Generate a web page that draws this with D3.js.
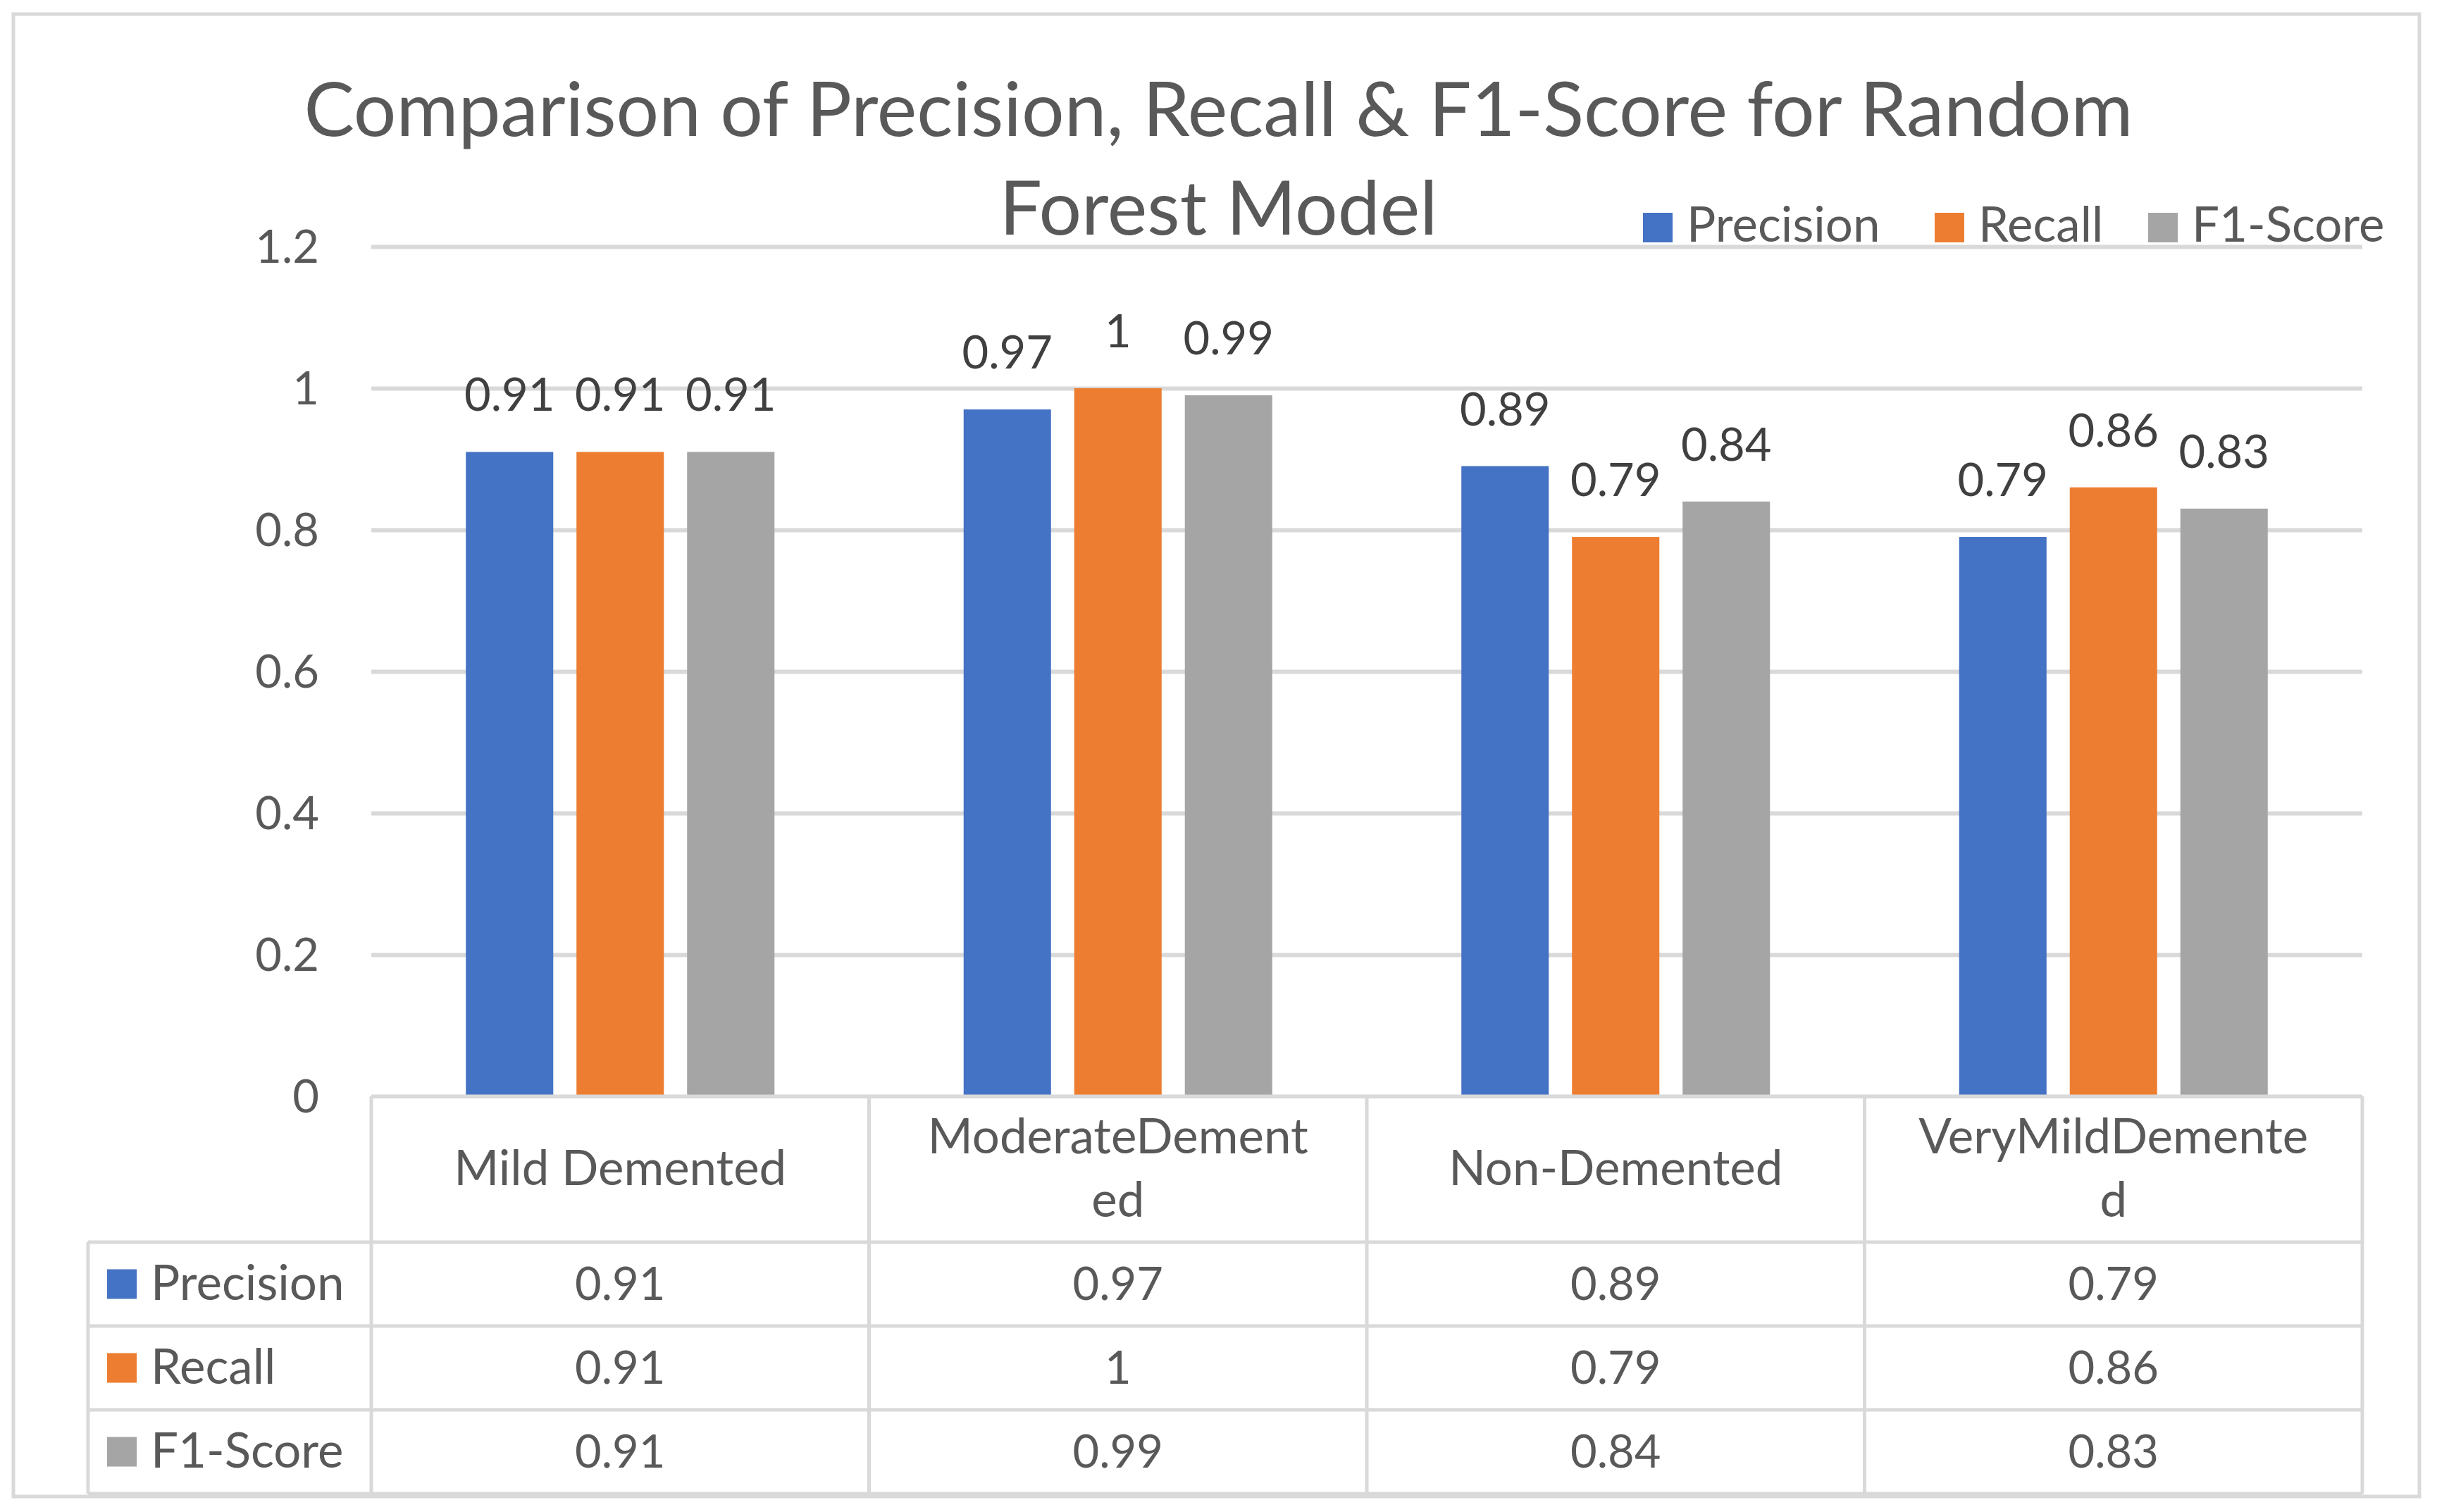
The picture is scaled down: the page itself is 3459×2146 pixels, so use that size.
<!DOCTYPE html>
<html>
<head>
<meta charset="utf-8">
<script src="https://cdn.jsdelivr.net/npm/d3@7/dist/d3.min.js"></script>
<style>
  html, body { margin: 0; padding: 0; background: #ffffff; }
  svg { display: block; }
</style>
</head>
<body>
<svg id="chart" width="3459" height="2146"></svg>
<script>
// ---------------- DATA ----------------
const categories = ["Mild Demented", "ModerateDemented", "Non-Demented", "VeryMildDemented"];
const seriesNames = ["Precision", "Recall", "F1-Score"];
const precisionValues = [0.91, 0.97, 0.89, 0.79];
const recallValues = [0.91, 1, 0.79, 0.86];
const f1ScoreValues = [0.91, 0.99, 0.84, 0.83];
const yTickValues = [0, 0.2, 0.4, 0.6, 0.8, 1, 1.2];
const yTickLabels = ["0", "0.2", "0.4", "0.6", "0.8", "1", "1.2"];
const titleLines = ["Comparison of Precision, Recall & F1-Score for Random", "Forest Model"];
const seriesColors = ["#4472C4", "#ED7D31", "#A5A5A5"];

// ---------------- LAYOUT ----------------
const W = 3459, H = 2146;
const FONT = "Lato, 'Open Sans', 'Noto Sans', sans-serif";
const NUM_SIZE = "65px";
const TXT_SIZE = "69px";
const textColor = "#595959";
const labelColor = "#404040";
const lineColor = "#D9D9D9";

const plotLeft = 527, plotRight = 3353, plotTop = 350, plotBottom = 1556;
const tableLeft = 125;
const rowH = 119;
const headerBottom = 1763;

const seriesData = [precisionValues, recallValues, f1ScoreValues];
const table = categories.map((c, i) => ({
  category: c,
  values: seriesNames.map((s, j) => ({ series: s, value: seriesData[j][i], idx: j }))
}));

const svg = d3.select("#chart");
svg.append("rect").attr("width", W).attr("height", H).attr("fill", "#ffffff");

// outer border
svg.append("rect")
  .attr("x", 19).attr("y", 20).attr("width", 3415).attr("height", 2104)
  .attr("fill", "none").attr("stroke", lineColor).attr("stroke-width", 5);

const y = d3.scaleLinear().domain([0, 1.2]).range([plotBottom, plotTop]);
const x0 = d3.scaleBand().domain(categories).range([plotLeft, plotRight]).padding(0);
const x1 = d3.scaleBand().domain(seriesNames).range([0, x0.bandwidth()])
  .paddingInner(0.21).paddingOuter(0.855);

// gridlines via axis
const yAxis = d3.axisLeft(y).tickValues(yTickValues).tickSize(-(plotRight - plotLeft)).tickFormat((d, i) => yTickLabels[i]);
const gAxis = svg.append("g").attr("transform", `translate(${plotLeft},0)`).call(yAxis);
gAxis.select(".domain").remove();
gAxis.selectAll(".tick line").attr("stroke", lineColor).attr("stroke-width", 6);
gAxis.selectAll(".tick text")
  .attr("x", -(plotLeft - 453))
  .attr("dy", "0.35em")
  .attr("fill", textColor)
  .style("font-family", FONT)
  .style("font-size", NUM_SIZE)
  .attr("text-anchor", "end");
gAxis.selectAll(".tick").filter(d => d === 0).select("line").attr("stroke-width", 5);

// bars
const groups = svg.append("g").selectAll("g.cat").data(table).join("g")
  .attr("class", "cat")
  .attr("transform", d => `translate(${x0(d.category)},0)`);

groups.selectAll("rect").data(d => d.values).join("rect")
  .attr("x", d => x1(d.series))
  .attr("y", d => y(d.value))
  .attr("width", x1.bandwidth())
  .attr("height", d => y(0) - y(d.value))
  .attr("fill", d => seriesColors[d.idx]);

groups.selectAll("text.lbl").data(d => d.values).join("text")
  .attr("class", "lbl")
  .attr("x", d => x1(d.series) + x1.bandwidth() / 2)
  .attr("y", d => y(d.value) - 58)
  .attr("text-anchor", "middle")
  .attr("fill", labelColor)
  .style("font-family", FONT)
  .style("font-size", NUM_SIZE)
  .text(d => String(d.value));

// title
svg.append("g").selectAll("text").data(titleLines).join("text")
  .attr("x", W / 2)
  .attr("y", (d, i) => 193 + i * 140)
  .attr("text-anchor", "middle")
  .attr("fill", textColor)
  .style("font-family", FONT)
  .style("font-size", "107px")
  .text(d => d);

// top legend
const legendX = [2332, 2746, 3049];
const lg = svg.append("g").selectAll("g").data(seriesNames).join("g")
  .attr("transform", (d, i) => `translate(${legendX[i]},0)`);
lg.append("rect").attr("x", 0).attr("y", 302).attr("width", 42).attr("height", 42)
  .attr("fill", (d, i) => seriesColors[i]);
lg.append("text").attr("x", 62).attr("y", 343)
  .attr("fill", textColor)
  .style("font-family", FONT).style("font-size", TXT_SIZE)
  .text(d => d);

// ---------------- DATA TABLE ----------------
const tg = svg.append("g");
const tableBottom = headerBottom + rowH * seriesNames.length;
const colEdges = categories.map(c => x0(c)).concat([plotRight]);

tg.append("line").attr("x1", plotLeft).attr("x2", plotRight).attr("y1", plotBottom).attr("y2", plotBottom)
  .attr("stroke", lineColor).attr("stroke-width", 5);
for (let r = 0; r <= seriesNames.length; r++) {
  tg.append("line").attr("x1", tableLeft).attr("x2", plotRight)
    .attr("y1", headerBottom + r * rowH).attr("y2", headerBottom + r * rowH)
    .attr("stroke", lineColor).attr("stroke-width", 5);
}
colEdges.forEach(xe => {
  tg.append("line").attr("x1", xe).attr("x2", xe).attr("y1", plotBottom).attr("y2", tableBottom)
    .attr("stroke", lineColor).attr("stroke-width", 5);
});
tg.append("line").attr("x1", tableLeft).attr("x2", tableLeft).attr("y1", headerBottom).attr("y2", tableBottom)
  .attr("stroke", lineColor).attr("stroke-width", 5);

// header labels with character wrap
const maxHeaderWidth = 562;
const headerCenterY = (plotBottom + headerBottom) / 2;
categories.forEach(c => {
  const t = tg.append("text")
    .attr("text-anchor", "middle")
    .attr("fill", textColor)
    .style("font-family", FONT).style("font-size", TXT_SIZE);
  const lines = [];
  let cur = "";
  const probe = tg.append("text").style("font-family", FONT).style("font-size", TXT_SIZE);
  for (const ch of c) {
    probe.text(cur + ch);
    if (probe.node().getComputedTextLength() > maxHeaderWidth && cur.length) {
      lines.push(cur); cur = ch;
    } else cur += ch;
  }
  lines.push(cur);
  probe.remove();
  const lh = 90;
  const startY = headerCenterY + 22 - (lines.length - 1) * lh / 2;
  lines.forEach((ln, i) => {
    t.append("tspan").attr("x", x0(c) + x0.bandwidth() / 2).attr("y", startY + i * lh).text(ln);
  });
});

// rows
seriesNames.forEach((s, j) => {
  const cy = headerBottom + j * rowH + rowH / 2;
  tg.append("rect").attr("x", 152).attr("y", cy - 21).attr("width", 42).attr("height", 42)
    .attr("fill", seriesColors[j]);
  tg.append("text").attr("x", 214).attr("y", cy + 22)
    .attr("fill", textColor)
    .style("font-family", FONT).style("font-size", TXT_SIZE)
    .text(s);
  categories.forEach((c, i) => {
    tg.append("text").attr("x", x0(c) + x0.bandwidth() / 2).attr("y", cy + 22)
      .attr("text-anchor", "middle")
      .attr("fill", textColor)
      .style("font-family", FONT).style("font-size", NUM_SIZE)
      .text(String(seriesData[j][i]));
  });
});
</script>
</body>
</html>
